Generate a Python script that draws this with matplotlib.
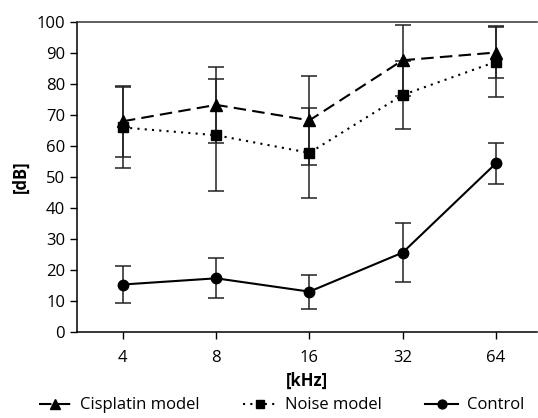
import numpy as np
import matplotlib.pyplot as plt

plt.rcParams['font.family'] = ['Open Sans', 'DejaVu Sans']

# frequencies on the x axis
freqs = ['4', '8', '16', '32', '64']

# mean thresholds and error (+/-)
cisplatin = [68, 73.3, 68.3, 87.7, 90.2]
cisplatin_err = [11.5, 12.3, 14.4, 11.5, 8.1]
noise = [66, 63.5, 57.8, 76.5, 87.2]
noise_err = [13, 18, 14.5, 11, 11.4]
control = [15.3, 17.3, 13.0, 25.6, 54.4]
control_err = [6.1, 6.5, 5.5, 9.4, 6.7]

x = np.arange(len(freqs))

fig = plt.figure(figsize=(5.38, 4.18), dpi=100)
ax = fig.add_axes([0.143, 0.206, 0.855, 0.741])

eb = dict(ecolor='#222222', elinewidth=1.1, capsize=6, capthick=1.1)
c1 = ax.errorbar(x, cisplatin, yerr=cisplatin_err, color='black', ls=(0, (6, 3)),
                 lw=1.5, marker='^', ms=8, **eb)
c2 = ax.errorbar(x, noise, yerr=noise_err, color='black', ls=(0, (1, 2.5)),
                 lw=1.5, marker='s', ms=7, **eb)
c3 = ax.errorbar(x, control, yerr=control_err, color='black', ls='-',
                 lw=1.5, marker='o', ms=7.5, **eb)

ax.set_xlim(-0.493, 4.44)
ax.set_ylim(0, 100)
ax.set_yticks(range(0, 101, 10))
ax.set_xticks(x)
ax.set_xticklabels(freqs)
ax.tick_params(labelsize=12, length=5, width=1, direction='out')
ax.tick_params(axis='x', pad=8)
ax.spines['right'].set_visible(False)
for s in ['top', 'left', 'bottom']:
    ax.spines[s].set_linewidth(1.1)
ax.spines['top'].set_color('#333333')

ax.set_xlabel('[kHz]', fontsize=12, fontweight='bold', labelpad=4)
ax.set_ylabel('[dB]', fontsize=12, fontweight='bold', labelpad=5)

# legend without the error bar caps
fig.legend([c1[0], c2[0], c3[0]], ['Cisplatin model', 'Noise model', 'Control'],
           loc='lower center', bbox_to_anchor=(0.523, -0.025), ncol=3,
           frameon=False, fontsize=12, columnspacing=2.6, handlelength=2.0,
           handletextpad=0.5, markerscale=0.85)

fig.savefig('out.png', dpi=100)
